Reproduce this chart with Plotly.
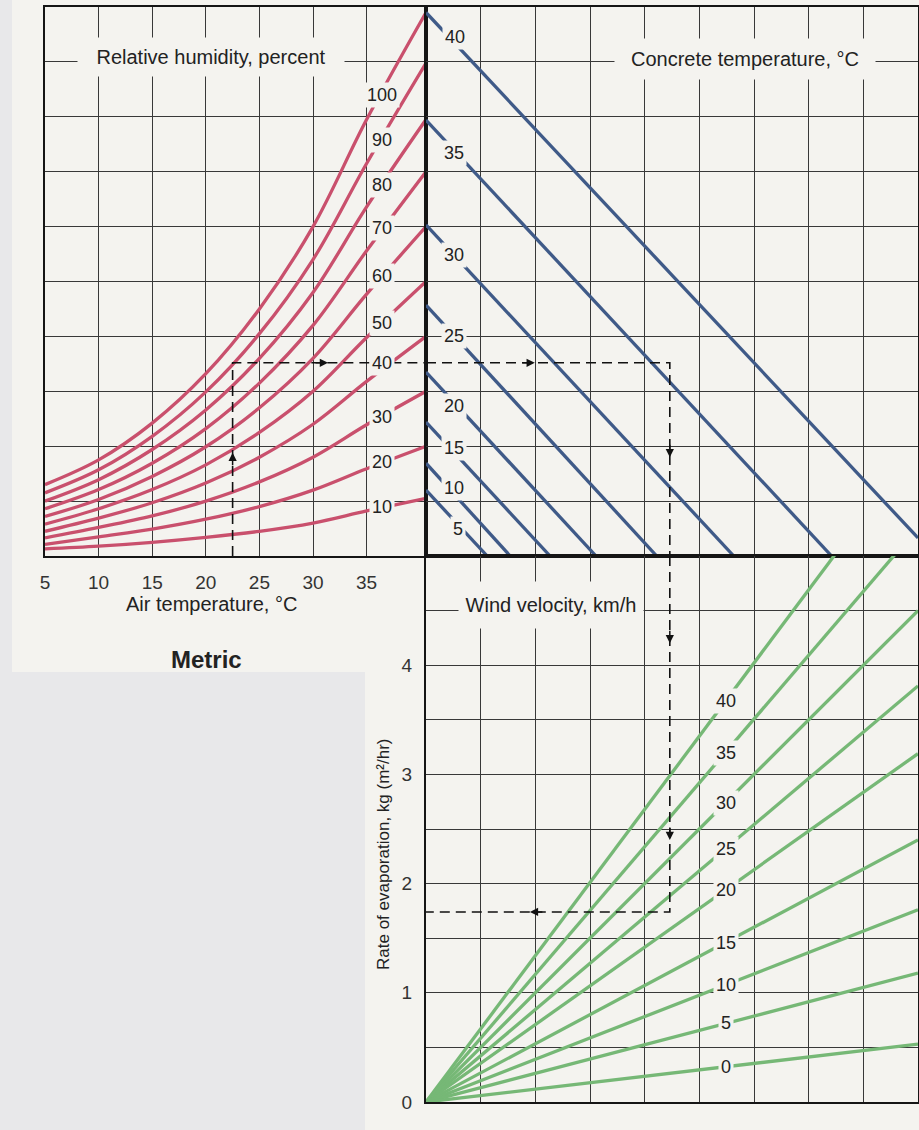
import plotly.graph_objects as go

W, H = 919, 1130
PAPER = '#f4f3ef'
GRAY = '#e8e8ea'
RED = '#c9506d'
BLUE = '#3f5a88'
GREEN = '#76b876'
INK = '#222222'
GRID = '#383838'
FONT = 'Liberation Sans, Arial, sans-serif'

# ---------------- data ----------------
# Panel 1: relative humidity curves (y in grid units of the vapour-pressure scale, 0..10)
air_temp = [5, 10, 15, 20, 25, 30, 35, 40.54]
rh_levels = [100, 90, 80, 70, 60, 50, 40, 30, 20, 10]
rh_100 = [1.30, 1.75, 2.42, 3.32, 4.50, 6.00, 7.95, 9.90]
rh_90 = [1.15, 1.57, 2.18, 2.99, 4.05, 5.40, 7.15, 8.98]
rh_80 = [1.00, 1.39, 1.94, 2.66, 3.60, 4.80, 6.36, 7.95]
rh_70 = [0.86, 1.21, 1.69, 2.32, 3.15, 4.20, 5.56, 7.00]
rh_60 = [0.72, 1.03, 1.45, 1.99, 2.70, 3.60, 4.77, 6.00]
rh_50 = [0.58, 0.86, 1.21, 1.66, 2.25, 3.00, 3.98, 5.00]
rh_40 = [0.45, 0.69, 0.97, 1.33, 1.80, 2.40, 3.18, 4.00]
rh_30 = [0.33, 0.52, 0.73, 1.00, 1.35, 1.80, 2.39, 3.00]
rh_20 = [0.21, 0.35, 0.49, 0.67, 0.90, 1.20, 1.59, 2.00]
rh_10 = [0.13, 0.18, 0.25, 0.34, 0.45, 0.60, 0.82, 1.05]
rh_curves = [rh_100, rh_90, rh_80, rh_70, rh_60, rh_50, rh_40, rh_30, rh_20, rh_10]
rh_label_x = 36.4
rh_label_y = [8.40, 7.58, 6.76, 5.97, 5.10, 4.24, 3.52, 2.53, 1.71, 0.89]
air_ticks = [5, 10, 15, 20, 25, 30, 35]

# Panel 2: concrete temperature lines (x in grid units 0..9, y in grid units 0..10)
concrete_temp = [40, 35, 30, 25, 20, 15, 10, 5]
conc_start_y = [9.90, 7.94, 6.03, 4.57, 3.35, 2.44, 1.69, 1.20]
conc_end_x = [9.00, 7.42, 5.63, 4.22, 3.11, 2.27, 1.54, 1.12]
conc_end_y = [0.33, 0, 0, 0, 0, 0, 0, 0]
conc_label_x = [0.53, 0.51, 0.51, 0.51, 0.51, 0.51, 0.51, 0.59]
conc_label_y = [9.45, 7.34, 5.48, 4.00, 2.73, 1.97, 1.24, 0.49]

# Panel 3: wind velocity lines (x in grid units 0..9, y = rate of evaporation)
wind_speed = [40, 35, 30, 25, 20, 15, 10, 5, 0]
wind_end_y = [6.03, 5.26, 4.50, 3.81, 3.19, 2.40, 1.76, 1.18, 0.53]
wind_label_x = 5.48
wind_label_y = [3.67, 3.20, 2.74, 2.32, 1.94, 1.46, 1.07, 0.72, 0.32]
evap_ticks = [0, 0.5, 1, 1.5, 2, 2.5, 3, 3.5, 4, 4.5, 5]
evap_ticktext = ['0', '', '1', '', '2', '', '3', '', '4', '', '']

# Worked example (dashed path)
ex_air = 22.5
ex_vp = 3.52
ex_x = 4.46
ex_evap = 1.74


def fx(px):
    return px / W


def fy(py):
    return 1 - py / H


fig = go.Figure()

for lvl, ys in zip(rh_levels, rh_curves):
    fig.add_trace(go.Scatter(x=air_temp, y=ys, mode='lines', xaxis='x', yaxis='y',
                             line=dict(color=RED, width=3.3, shape='spline'),
                             name=f'RH {lvl}%', showlegend=False, hoverinfo='skip'))

for t, y0, x1, y1 in zip(concrete_temp, conc_start_y, conc_end_x, conc_end_y):
    fig.add_trace(go.Scatter(x=[0, x1], y=[y0, y1], mode='lines', xaxis='x2', yaxis='y2',
                             line=dict(color=BLUE, width=3.3),
                             name=f'Concrete {t}', showlegend=False, hoverinfo='skip'))

for w, ye in zip(wind_speed, wind_end_y):
    fig.add_trace(go.Scatter(x=[0, 9], y=[0, ye], mode='lines', xaxis='x3', yaxis='y3',
                             line=dict(color=GREEN, width=3.3),
                             name=f'Wind {w}', showlegend=False, hoverinfo='skip'))

DASH = dict(color='#111111', width=1.6, dash='10px,6px')
fig.add_trace(go.Scatter(x=[ex_air, ex_air, 40.54], y=[0, ex_vp, ex_vp], mode='lines',
                         xaxis='x', yaxis='y', line=DASH, showlegend=False, hoverinfo='skip'))
fig.add_trace(go.Scatter(x=[0, ex_x, ex_x], y=[ex_vp, ex_vp, 0], mode='lines',
                         xaxis='x2', yaxis='y2', line=DASH, showlegend=False, hoverinfo='skip'))
fig.add_trace(go.Scatter(x=[ex_x, ex_x, 0], y=[5.0, ex_evap, ex_evap], mode='lines',
                         xaxis='x3', yaxis='y3', line=DASH, showlegend=False, hoverinfo='skip'))

ann = []
lab_font = dict(family=FONT, size=18, color=INK)
for lvl, y in zip(rh_levels, rh_label_y):
    ann.append(dict(x=rh_label_x, y=y, xref='x', yref='y', text=str(lvl), showarrow=False,
                    font=lab_font, bgcolor=PAPER, borderpad=2))
for t, x, y in zip(concrete_temp, conc_label_x, conc_label_y):
    ann.append(dict(x=x, y=y, xref='x2', yref='y2', text=str(t), showarrow=False,
                    font=lab_font, bgcolor=PAPER, borderpad=2))
for w, y in zip(wind_speed, wind_label_y):
    ann.append(dict(x=wind_label_x, y=y, xref='x3', yref='y3', text=str(w), showarrow=False,
                    font=lab_font, bgcolor=PAPER, borderpad=2))

# arrows on the worked example
arrow = dict(showarrow=True, text='', arrowhead=2, arrowsize=1.1, arrowwidth=1.5,
             arrowcolor='#111111')
ann.append(dict(x=ex_air, y=1.88, xref='x', yref='y', ax=0, ay=14, **arrow))
ann.append(dict(x=31.4, y=ex_vp, xref='x', yref='y', ax=-14, ay=0, **arrow))
ann.append(dict(x=1.99, y=ex_vp, xref='x2', yref='y2', ax=-14, ay=0, **arrow))
ann.append(dict(x=ex_x, y=1.80, xref='x2', yref='y2', ax=0, ay=-14, **arrow))
ann.append(dict(x=ex_x, y=4.20, xref='x3', yref='y3', ax=0, ay=-14, **arrow))
ann.append(dict(x=ex_x, y=2.40, xref='x3', yref='y3', ax=0, ay=-14, **arrow))
ann.append(dict(x=1.9, y=ex_evap, xref='x3', yref='y3', ax=14, ay=0, **arrow))

title_font = dict(family=FONT, size=20, color=INK)
ann.append(dict(x=fx(211), y=fy(57), xref='paper', yref='paper', text='Relative humidity, percent',
                showarrow=False, font=title_font, bgcolor=PAPER, width=264, height=36,
                xanchor='center', yanchor='middle'))
ann.append(dict(x=fx(745), y=fy(59), xref='paper', yref='paper', text='Concrete temperature, \u00b0C',
                showarrow=False, font=title_font, bgcolor=PAPER, width=258, height=38,
                xanchor='center', yanchor='middle'))
ann.append(dict(x=fx(551), y=fy(605), xref='paper', yref='paper', text='Wind velocity, km/h',
                showarrow=False, font=title_font, bgcolor=PAPER, width=182, height=44,
                xanchor='center', yanchor='middle'))
ann.append(dict(x=fx(211), y=fy(604), xref='paper', yref='paper', text='Air temperature, \u00b0C',
                showarrow=False, font=title_font, xanchor='center', yanchor='middle'))
ann.append(dict(x=fx(206), y=fy(659), xref='paper', yref='paper', text='<b>Metric</b>',
                showarrow=False, font=dict(family=FONT, size=24, color=INK),
                xanchor='center', yanchor='middle'))
ann.append(dict(x=fx(383), y=fy(855), xref='paper', yref='paper',
                text='Rate of evaporation, kg (m\u00b2/hr)', textangle=-90,
                showarrow=False, font=dict(family=FONT, size=17, color=INK),
                xanchor='center', yanchor='middle'))

shapes = [
    dict(type='rect', xref='paper', yref='paper', x0=fx(12), x1=1, y0=fy(672), y1=1,
         fillcolor=PAPER, line=dict(width=0), layer='below'),
    dict(type='rect', xref='paper', yref='paper', x0=fx(365), x1=1, y0=0, y1=fy(672),
         fillcolor=PAPER, line=dict(width=0), layer='below'),
]

axis_common = dict(showgrid=True, gridcolor=GRID, gridwidth=1.3, zeroline=False,
                   showline=True, linecolor='#151515', linewidth=2, mirror=True,
                   ticks='', fixedrange=True, automargin=False)

upper_dom = [fy(556), fy(7)]
lower_dom = [fy(1102), fy(556)]
left_x_dom = [fx(45), fx(426)]
right_x_dom = [fx(426), fx(918)]

tick_font = dict(family=FONT, size=19, color='#333333')

fig.update_layout(
    template='none',
    width=W, height=H, autosize=False,
    margin=dict(l=0, r=0, t=0, b=0, pad=0),
    paper_bgcolor=GRAY, plot_bgcolor=PAPER,
    showlegend=False,
    font=dict(family=FONT, color=INK),
    annotations=ann, shapes=shapes,
    xaxis=dict(domain=left_x_dom, range=[5, 40.54], anchor='y', tickvals=air_ticks,
               tickfont=tick_font, ticklabelstandoff=8, **axis_common),
    yaxis=dict(domain=upper_dom, range=[0, 10], anchor='x', dtick=1, showticklabels=False,
               **axis_common),
    xaxis2=dict(domain=right_x_dom, range=[0, 9], anchor='y2', dtick=1, showticklabels=False,
                **axis_common),
    yaxis2=dict(domain=upper_dom, range=[0, 10], anchor='x2', dtick=1, showticklabels=False,
                **axis_common),
    xaxis3=dict(domain=right_x_dom, range=[0, 9], anchor='y3', dtick=1, showticklabels=False,
                **axis_common),
    yaxis3=dict(domain=lower_dom, range=[0, 5], anchor='x3', tickvals=evap_ticks,
                ticktext=evap_ticktext, tickfont=tick_font, ticklabelstandoff=8,
                **axis_common),
)

PAGE_CSS = (
    "var s=document.createElement('style');"
    "s.textContent='html,body{margin:0!important;padding:0!important;overflow:hidden!important;"
    "background:#e8e8ea;}';"
    "document.head.appendChild(s);"
)

fig.write_html('out.html', config={'displayModeBar': False, 'responsive': False},
               post_script=PAGE_CSS)
